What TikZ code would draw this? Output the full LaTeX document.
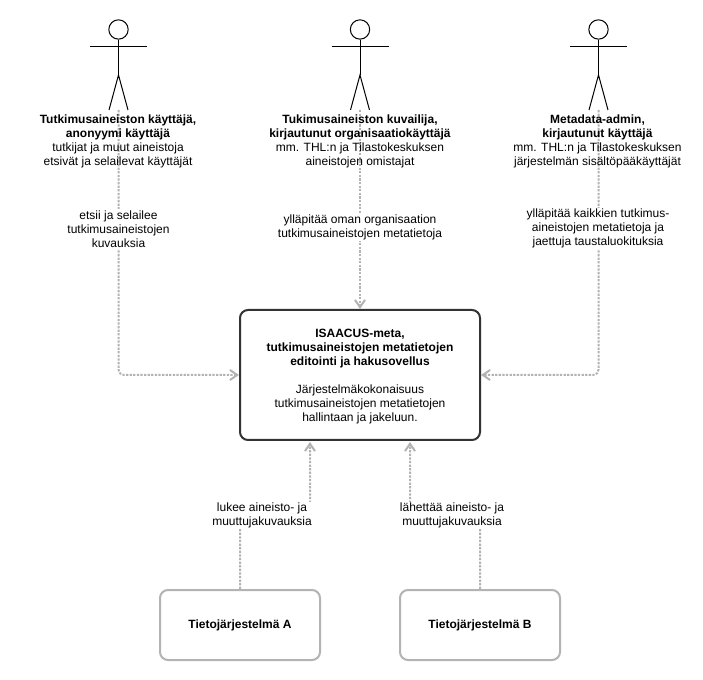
\documentclass[tikz,border=0pt]{standalone}
\usepackage{fontspec}
\setmainfont{Liberation Sans}
\usepackage{xcolor}
\usetikzlibrary{arrows.meta,calc}
\definecolor{flowgray}{HTML}{B3B3B3}
\definecolor{boxdark}{HTML}{333333}
\tikzset{
    txt/.style={font=\fontsize{9}{10.5}\selectfont, align=center, inner sep=0pt},
    role/.style={txt},
    lbl/.style={txt, fill=white, inner ysep=1pt},
    flow/.style={draw=flowgray, line width=1.5pt, dash pattern=on 1.7pt off 1pt, rounded corners=4pt,
        -{Straight Barb[length=5.5pt,width=7.5pt,line width=1.5pt]}},
    mainbox/.style={txt, draw=boxdark, line width=1.5pt, rounded corners=6pt, minimum width=180pt, minimum height=97.5pt},
    sysbox/.style={txt, draw=flowgray, line width=1.5pt, rounded corners=6pt, minimum width=120pt, minimum height=52.5pt},
    actor/.pic={
        \node[draw, circle, minimum size=14.5pt, inner sep=0pt, line width=0.75pt] (-head) at (0,29.5) {};
        \coordinate (-foot) at (0,110);
        \draw[line width=0.75pt] (-head.south) -- (0,75) coordinate (-hip);
        \draw[line width=0.75pt] (-28.5,47) -- (28.5,47);
        \draw[line width=0.75pt] (-9.5,110) -- (-hip) -- (9.5,110);
    }
}
\begin{document}
\begin{tikzpicture}[x=0.75pt, y=-0.75pt]
    \useasboundingbox (0,0) rectangle (703,680);

    % Actors
    \pic (userA) at (118.5,0) {actor};
    \pic (userB) at (360,0) {actor};
    \pic (userC) at (598.5,0) {actor};

    % Boxes
    \node[mainbox] (metaBox) at (360,375) {\rule{0pt}{8.7pt}\textbf{ISAACUS-meta,}\\\textbf{tutkimusaineistojen metatietojen}\\\textbf{editointi ja hakusovellus}\\[10.5pt]Järjestelmäkokonaisuus\\tutkimusaineistojen metatietojen\\hallintaan ja jakeluun.};
    \node[sysbox] (sysA) at (240,625) {\textbf{Tietojärjestelmä A}};
    \node[sysbox] (sysB) at (480,625) {\textbf{Tietojärjestelmä B}};
    \coordinate (inA) at ($(metaBox.south)+(-50,1)$);
    \coordinate (inB) at ($(metaBox.south)+(50,1)$);

    % Connectors
    \draw [flow] (userA-foot) |- (metaBox.west);
    \draw [flow] (userB-foot) -- (metaBox.north);
    \draw [flow] (userC-foot) |- (metaBox.east);
    \draw [flow] (sysA.north) -- ++(0,-75) -| (inA);
    \draw [flow] (sysB.north) -- ++(0,-75) -| (inB);

    % Actor texts
    \node[role] (roleA) at (118,141) {\textbf{Tutkimusaineiston käyttäjä,}\\\textbf{anonyymi käyttäjä}\\tutkijat ja muut aineistoja\\etsivät ja selailevat käyttäjät};
    \node[role] (roleB) at (360,141) {\textbf{Tukimusaineiston kuvailija,}\\\textbf{kirjautunut organisaatiokäyttäjä}\\mm. THL:n ja Tilastokeskuksen\\aineistojen omistajat};
    \node[role] (roleC) at (597.5,141) {\textbf{Metadata-admin,}\\\textbf{kirjautunut käyttäjä}\\mm. THL:n ja Tilastokeskuksen\\järjestelmän sisältöpääkäyttäjät};

    % Connector labels
    \node[lbl] (lblA) at (118.5,229) {etsii ja selailee\\tutkimusaineistojen\\kuvauksia};
    \node[lbl] (lblB) at (360,227.5) {ylläpitää oman organisaation\\tutkimusaineistojen metatietoja};
    \node[lbl] (lblC) at (598,228.5) {ylläpitää kaikkien tutkimus-\\aineistojen metatietoja ja\\jaettuja taustaluokituksia};
    \node[lbl] (lblD) at (262,515.5) {lukee aineisto- ja\\muuttujakuvauksia};
    \node[lbl] (lblE) at (452,515.5) {lähettää aineisto- ja\\muuttujakuvauksia};
\end{tikzpicture}
\end{document}
